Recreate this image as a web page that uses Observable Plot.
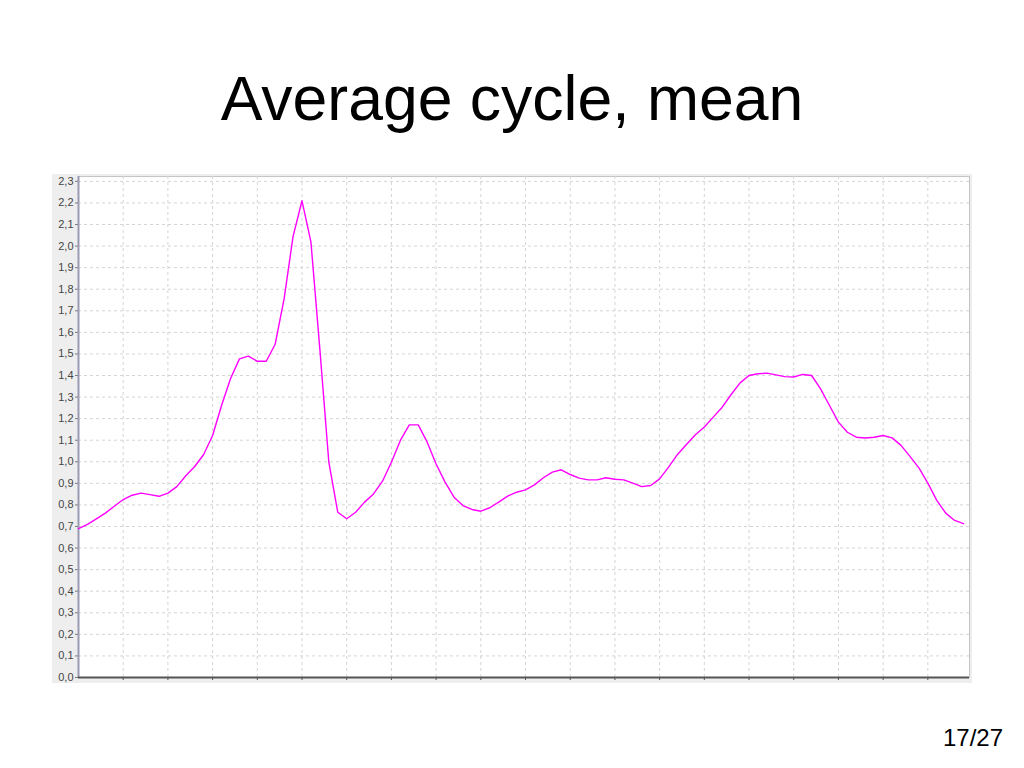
<!DOCTYPE html>
<html>
<head>
<meta charset="utf-8">
<script src="https://cdn.jsdelivr.net/npm/d3@7"></script>
<script src="https://cdn.jsdelivr.net/npm/@observablehq/plot@0.6"></script>
<style>
  html, body { margin: 0; padding: 0; background: #ffffff; width: 1024px; height: 768px; overflow: hidden; }
  #title { position: absolute; left: 0; width: 1024px; top: 67px; text-align: center;
           font-family: "Liberation Sans", Arial, sans-serif; font-size: 62.5px; line-height: 62px; color: #000; }
  #page { position: absolute; right: 21px; top: 726px; font-family: "Liberation Sans", Arial, sans-serif;
          font-size: 24px; line-height: 24px; color: #000; }
  #chart { position: absolute; left: 52px; top: 174px; }
</style>
</head>
<body>
<div id="title">Average cycle, mean</div>
<div id="chart"></div>
<div id="page">17/27</div>
<script>
// Mean value of the average cycle, one value per sample (100 samples)
const meanValues = [
  0.69, 0.71, 0.735, 0.762, 0.794, 0.825, 0.845, 0.855, 0.848, 0.84,
  0.855, 0.885, 0.935, 0.978, 1.034, 1.122, 1.261, 1.385, 1.477, 1.49,
  1.466, 1.466, 1.545, 1.756, 2.045, 2.21, 2.018, 1.52, 0.998, 0.766,
  0.736, 0.766, 0.813, 0.851, 0.91, 0.998, 1.099, 1.171, 1.171, 1.091,
  0.99, 0.906, 0.836, 0.797, 0.779, 0.771, 0.787, 0.813, 0.841, 0.859,
  0.87, 0.893, 0.926, 0.952, 0.963, 0.941, 0.924, 0.916, 0.916, 0.926,
  0.919, 0.916, 0.901, 0.885, 0.89, 0.921, 0.975, 1.034, 1.08, 1.125,
  1.161, 1.207, 1.253, 1.312, 1.366, 1.40, 1.408, 1.411, 1.403, 1.395,
  1.393, 1.405, 1.40, 1.338, 1.261, 1.184, 1.137, 1.114, 1.11, 1.114,
  1.122, 1.111, 1.076, 1.025, 0.972, 0.901, 0.821, 0.762, 0.728, 0.713
];
const sampleIndex = meanValues.map((_, i) => i);
const yTicks = d3.range(0, 24).map(k => k / 10);
const xTicks = d3.range(5, 100, 5);

const data = sampleIndex.map(i => ({ i, v: meanValues[i] }));
const fmt = d => d3.format(".1f")(d).replace(".", ",");

const chart = Plot.plot({
  width: 920,
  height: 509,
  marginLeft: 26,
  marginRight: 3,
  marginTop: 2,
  marginBottom: 6,
  style: { background: "#eeeeee", fontFamily: "'Liberation Sans', Arial, sans-serif", fontSize: "11px", color: "#444" },
  x: { domain: [0, 99.66], axis: null, label: null },
  y: { domain: [0, 2.3226], axis: null, label: null },
  marks: [
    Plot.frame({ fill: "white", stroke: "#c4c4c4" }),
    Plot.gridY(yTicks, { stroke: "#d4d4d4", strokeOpacity: 1, strokeDasharray: "3,3" }),
    Plot.gridX(xTicks, { stroke: "#d4d4d4", strokeOpacity: 1, strokeDasharray: "3,3" }),
    Plot.axisY({ ticks: yTicks, tickFormat: fmt, tickSize: 3, tickPadding: 2, stroke: "#777", fill: "#444", label: null }),
    Plot.axisX({ ticks: xTicks, tickSize: 3, tickFormat: () => "", stroke: "#555", label: null }),
    Plot.ruleX([0], { stroke: "#9a9ab4", strokeWidth: 2 }),
    Plot.ruleY([0], { stroke: "#555555", strokeWidth: 2 }),
    Plot.line(data, { x: "i", y: "v", stroke: "#ff00ff", strokeWidth: 1.4 })
  ]
});
document.getElementById("chart").appendChild(chart);
</script>
</body>
</html>
